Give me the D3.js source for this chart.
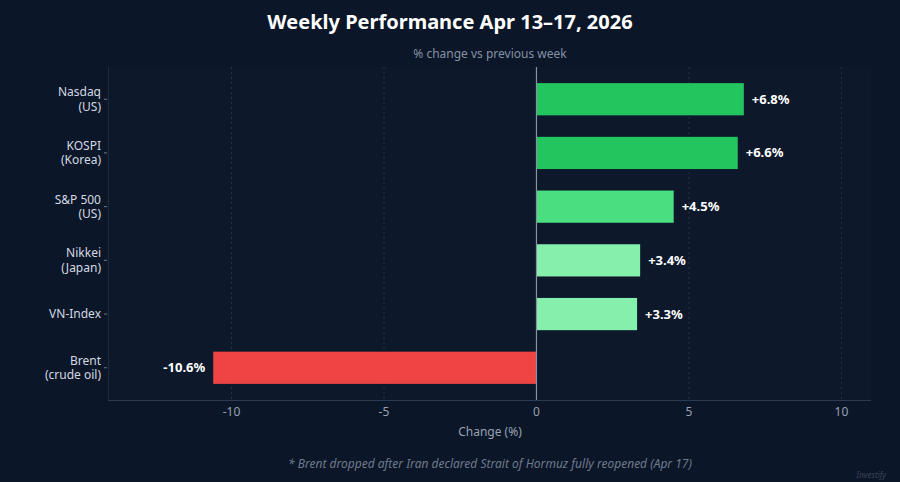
<!DOCTYPE html>
<html>
<head>
	<meta charset="utf-8" />
	<title>Weekly Performance</title>
	<style type="text/css">
		*{margin:0px;padding:0px;}
		body{background:#0b1628;}
		svg{display:block;font-family:"Noto Sans", "Open Sans", sans-serif;}
	</style>
</head>
<body>
	<script type="text/javascript" src="https://cdnjs.cloudflare.com/ajax/libs/d3/7.8.5/d3.min.js"></script>
	<script type="text/javascript">

		// data
		var labels = [["Nasdaq", "(US)"], ["KOSPI", "(Korea)"], ["S&P 500", "(US)"], ["Nikkei", "(Japan)"], ["VN-Index"], ["Brent", "(crude oil)"]];
		var values = [6.8, 6.6, 4.5, 3.4, 3.3, -10.6];
		var colors = ["#22c55e", "#22c55e", "#4ade80", "#86efac", "#86efac", "#ef4444"];
		var xTicks = [-10, -5, 0, 5, 10];

		var width = 900, height = 482;
		var pLeft = 108, pRight = 871, pTop = 67, pBottom = 400;

		var svg = d3.select("body").append("svg").attr("width", width).attr("height", height);

		svg.append("rect").attr("width", width).attr("height", height).attr("fill", "#0b1628");
		svg.append("rect").attr("x", pLeft).attr("y", pTop).attr("width", pRight - pLeft).attr("height", pBottom - pTop).attr("fill", "#0d182b");

		var x = d3.scaleLinear().domain([-14.05, 10.97]).range([pLeft, pRight]);
		var y = d3.scaleBand().domain(d3.range(values.length)).range([pTop, pBottom]).paddingInner(0.4).paddingOuter(0.3);

		// grid lines
		svg.selectAll(".grid")
			.data(xTicks.filter(function(d){return d !== 0}))
			.enter().append("line")
			.attr("x1", function(d){return x(d)}).attr("x2", function(d){return x(d)})
			.attr("y1", pTop).attr("y2", pBottom)
			.attr("stroke", "#26324a").attr("stroke-width", 1).attr("stroke-dasharray", "2,3");

		// axis lines
		svg.append("line").attr("x1", pLeft + 0.5).attr("x2", pLeft + 0.5).attr("y1", pTop).attr("y2", pBottom)
			.attr("stroke", "#1e2a3f");
		svg.append("line").attr("x1", pLeft).attr("x2", pRight).attr("y1", pBottom + 0.5).attr("y2", pBottom + 0.5)
			.attr("stroke", "#2c3a52");

		// bars
		svg.selectAll(".bar")
			.data(values).enter().append("rect")
			.attr("x", function(d){return x(Math.min(0, d))})
			.attr("y", function(d, i){return y(i)})
			.attr("width", function(d){return Math.abs(x(d) - x(0))})
			.attr("height", y.bandwidth())
			.attr("fill", function(d, i){return colors[i]});

		// zero line
		svg.append("line").attr("x1", x(0)).attr("x2", x(0)).attr("y1", pTop).attr("y2", pBottom)
			.attr("stroke", "#8893a6").attr("stroke-width", 1.2);

		// value labels
		svg.selectAll(".val")
			.data(values).enter().append("text")
			.attr("x", function(d){return d >= 0 ? x(d) + 8 : x(d) - 8})
			.attr("y", function(d, i){return y(i) + y.bandwidth() / 2})
			.attr("dy", "0.35em")
			.attr("text-anchor", function(d){return d >= 0 ? "start" : "end"})
			.attr("fill", "#ffffff").attr("font-size", 13).attr("font-weight", "bold")
			.text(function(d){return (d > 0 ? "+" : "") + d.toFixed(1) + "%"});

		// y axis labels and ticks
		var yl = svg.selectAll(".ylab")
			.data(labels).enter().append("g")
			.attr("transform", function(d, i){return "translate(0," + (y(i) + y.bandwidth() / 2) + ")"});
		yl.append("line").attr("x1", pLeft - 4).attr("x2", pLeft - 1).attr("stroke", "#6b778a");
		yl.append("text")
			.attr("text-anchor", "end").attr("fill", "#d3d9e3").attr("font-size", 12)
			.selectAll("tspan").data(function(d){return d}).enter().append("tspan")
			.attr("x", pLeft - 7)
			.attr("y", function(d, j, arr){return (j - (arr.length - 1) / 2) * 14.5})
			.attr("dy", "0.35em")
			.text(function(d){return d});

		// x tick labels
		svg.selectAll(".xlab")
			.data(xTicks).enter().append("text")
			.attr("x", function(d){return x(d)}).attr("y", pBottom + 16)
			.attr("text-anchor", "middle").attr("fill", "#98a2b3").attr("font-size", 12)
			.text(function(d){return d < 0 ? "-" + Math.abs(d) : d});

		svg.append("text").attr("x", 490).attr("y", 436).attr("text-anchor", "middle")
			.attr("fill", "#98a2b3").attr("font-size", 12).text("Change (%)");

		// titles
		svg.append("text").attr("x", 450).attr("y", 29).attr("text-anchor", "middle")
			.attr("fill", "#ffffff").attr("font-size", 20).attr("font-weight", "bold")
			.text("Weekly Performance Apr 13–17, 2026");
		svg.append("text").attr("x", 490).attr("y", 58).attr("text-anchor", "middle")
			.attr("fill", "#8591a3").attr("font-size", 12).text("% change vs previous week");

		// footnote and watermark
		svg.append("text").attr("x", 490).attr("y", 468).attr("text-anchor", "middle")
			.attr("fill", "#6f7a8c").attr("font-size", 12).attr("font-style", "italic")
			.text("* Brent dropped after Iran declared Strait of Hormuz fully reopened (Apr 17)");
		svg.append("text").attr("x", 886).attr("y", 478).attr("text-anchor", "end")
			.attr("fill", "#3a4558").attr("font-size", 8).attr("font-style", "italic")
			.text("Investify");

	</script>
</body>
</html>
